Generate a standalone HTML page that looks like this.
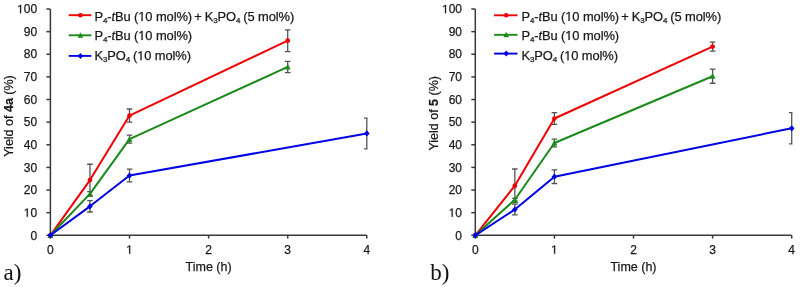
<!DOCTYPE html>
<html><head><meta charset="utf-8"><style>
html,body{margin:0;padding:0;background:#fff;width:800px;height:287px;overflow:hidden}
svg{display:block;will-change:transform}
.one{fill:transparent;stroke:none}
.onep{fill:#1a1a1a;stroke:#1a1a1a;stroke-width:0.25px}
.t{font-family:"Liberation Sans", sans-serif;font-size:12px;fill:#1a1a1a;stroke:#1a1a1a;stroke-width:0.25px}
.at{font-family:"Liberation Sans", sans-serif;font-size:12.5px;fill:#1a1a1a;stroke:#1a1a1a;stroke-width:0.25px}
.lg{font-family:"Liberation Sans", sans-serif;font-size:12.9px;letter-spacing:-0.09px;fill:#1a1a1a;stroke:#1a1a1a;stroke-width:0.25px}
.sub{font-size:8.0px}
.tag{font-family:"Liberation Serif", serif;font-size:23px;fill:#111}
</style></head><body>
<svg width="800" height="287" viewBox="0 0 800 287">
<path d="M89.95 164.24V195.92M87.15 164.24h5.60M87.15 195.92h5.60" stroke="#555555" stroke-width="1.3" fill="none"/>
<path d="M129.50 109.02V122.15M126.70 109.02h5.60M126.70 122.15h5.60" stroke="#555555" stroke-width="1.3" fill="none"/>
<path d="M287.70 29.82V51.54M284.90 29.82h5.60M284.90 51.54h5.60" stroke="#555555" stroke-width="1.3" fill="none"/>
<path d="M89.95 191.62V196.15M87.15 191.62h5.60M87.15 196.15h5.60" stroke="#555555" stroke-width="1.3" fill="none"/>
<path d="M129.50 135.05V143.20M126.70 135.05h5.60M126.70 143.20h5.60" stroke="#555555" stroke-width="1.3" fill="none"/>
<path d="M287.70 61.28V72.59M284.90 61.28h5.60M284.90 72.59h5.60" stroke="#555555" stroke-width="1.3" fill="none"/>
<path d="M89.95 200.68V211.99M87.15 200.68h5.60M87.15 211.99h5.60" stroke="#555555" stroke-width="1.3" fill="none"/>
<path d="M129.50 169.22V181.89M126.70 169.22h5.60M126.70 181.89h5.60" stroke="#555555" stroke-width="1.3" fill="none"/>
<path d="M366.80 118.08V148.85M364.00 118.08h3.60M364.00 148.85h3.60" stroke="#555555" stroke-width="1.3" fill="none"/>
<path d="M50.40 9.00V235.30H366.80" stroke="#3a3a3a" stroke-width="1.5" fill="none"/>
<path d="M46.40 235.30H50.40" stroke="#3a3a3a" stroke-width="1.5"/>
<text x="37.10" y="239.50" text-anchor="end" class="t">0</text>
<path d="M46.40 212.67H50.40" stroke="#3a3a3a" stroke-width="1.5"/>
<text x="37.10" y="216.87" text-anchor="end" class="t"><tspan class="one">1</tspan>0</text>
<path d="M46.40 190.04H50.40" stroke="#3a3a3a" stroke-width="1.5"/>
<text x="37.10" y="194.24" text-anchor="end" class="t">20</text>
<path d="M46.40 167.41H50.40" stroke="#3a3a3a" stroke-width="1.5"/>
<text x="37.10" y="171.61" text-anchor="end" class="t">30</text>
<path d="M46.40 144.78H50.40" stroke="#3a3a3a" stroke-width="1.5"/>
<text x="37.10" y="148.98" text-anchor="end" class="t">40</text>
<path d="M46.40 122.15H50.40" stroke="#3a3a3a" stroke-width="1.5"/>
<text x="37.10" y="126.35" text-anchor="end" class="t">50</text>
<path d="M46.40 99.52H50.40" stroke="#3a3a3a" stroke-width="1.5"/>
<text x="37.10" y="103.72" text-anchor="end" class="t">60</text>
<path d="M46.40 76.89H50.40" stroke="#3a3a3a" stroke-width="1.5"/>
<text x="37.10" y="81.09" text-anchor="end" class="t">70</text>
<path d="M46.40 54.26H50.40" stroke="#3a3a3a" stroke-width="1.5"/>
<text x="37.10" y="58.46" text-anchor="end" class="t">80</text>
<path d="M46.40 31.63H50.40" stroke="#3a3a3a" stroke-width="1.5"/>
<text x="37.10" y="35.83" text-anchor="end" class="t">90</text>
<path d="M46.40 9.00H50.40" stroke="#3a3a3a" stroke-width="1.5"/>
<text x="37.10" y="13.20" text-anchor="end" class="t"><tspan class="one">1</tspan>00</text>
<path d="M50.40 235.30V238.60" stroke="#3a3a3a" stroke-width="1.5"/>
<text x="50.40" y="253.70" text-anchor="middle" class="t">0</text>
<path d="M129.50 235.30V238.60" stroke="#3a3a3a" stroke-width="1.5"/>
<text x="129.50" y="253.70" text-anchor="middle" class="t"><tspan class="one">1</tspan></text>
<path d="M208.60 235.30V238.60" stroke="#3a3a3a" stroke-width="1.5"/>
<text x="208.60" y="253.70" text-anchor="middle" class="t">2</text>
<path d="M287.70 235.30V238.60" stroke="#3a3a3a" stroke-width="1.5"/>
<text x="287.70" y="253.70" text-anchor="middle" class="t">3</text>
<path d="M366.80 235.30V238.60" stroke="#3a3a3a" stroke-width="1.5"/>
<text x="366.80" y="253.70" text-anchor="middle" class="t">4</text>
<path d="M50.40 235.30 L89.95 180.08 L129.50 115.59 L287.70 40.68" stroke="#f00000" stroke-width="2.0" fill="none" stroke-linejoin="round"/>
<circle cx="50.40" cy="235.30" r="2.4" fill="#f00000"/>
<circle cx="89.95" cy="180.08" r="2.4" fill="#f00000"/>
<circle cx="129.50" cy="115.59" r="2.4" fill="#f00000"/>
<circle cx="287.70" cy="40.68" r="2.4" fill="#f00000"/>
<path d="M50.40 235.30 L89.95 193.89 L129.50 139.12 L287.70 66.93" stroke="#1a8a1a" stroke-width="2.0" fill="none" stroke-linejoin="round"/>
<path d="M50.40 232.08 L53.33 237.94 L47.47 237.94Z" fill="#1a8a1a"/>
<path d="M89.95 190.67 L92.88 196.52 L87.02 196.52Z" fill="#1a8a1a"/>
<path d="M129.50 135.90 L132.43 141.76 L126.57 141.76Z" fill="#1a8a1a"/>
<path d="M287.70 63.71 L290.63 69.57 L284.77 69.57Z" fill="#1a8a1a"/>
<path d="M50.40 235.30 L89.95 206.33 L129.50 175.56 L366.80 133.47" stroke="#0000e6" stroke-width="2.0" fill="none" stroke-linejoin="round"/>
<path d="M50.40 232.18 L53.21 235.30 L50.40 238.42 L47.59 235.30Z" fill="#0000e6"/>
<path d="M89.95 203.21 L92.76 206.33 L89.95 209.45 L87.14 206.33Z" fill="#0000e6"/>
<path d="M129.50 172.44 L132.31 175.56 L129.50 178.68 L126.69 175.56Z" fill="#0000e6"/>
<path d="M366.80 130.35 L369.61 133.47 L366.80 136.59 L363.99 133.47Z" fill="#0000e6"/>
<path d="M68.70 15.20h22.6" stroke="#f00000" stroke-width="1.9"/>
<circle cx="80.40" cy="15.20" r="2.3" fill="#f00000"/>
<text x="94.40" y="20.90" class="lg" xml:space="preserve">P<tspan class="sub" dy="2.0">4</tspan><tspan dy="-2.0">-</tspan><tspan font-style="italic">t</tspan>Bu (<tspan class="one">1</tspan>0 mol%)<tspan dx="-1.2"> + </tspan><tspan dx="-0.5">K</tspan><tspan class="sub" dy="2.0">3</tspan><tspan dy="-2.0">PO</tspan><tspan class="sub" dy="2.0">4</tspan><tspan dy="-2.0" dx="-0.6"> </tspan>(5 mol%)</text>
<path d="M68.70 35.30h22.6" stroke="#1a8a1a" stroke-width="1.9"/>
<path d="M80.40 32.21 L83.21 37.83 L77.59 37.83Z" fill="#1a8a1a"/>
<text x="94.40" y="40.00" class="lg" xml:space="preserve">P<tspan class="sub" dy="2.0">4</tspan><tspan dy="-2.0">-</tspan><tspan font-style="italic">t</tspan>Bu (<tspan class="one">1</tspan>0 mol%)</text>
<path d="M68.70 55.90h22.6" stroke="#0000e6" stroke-width="1.9"/>
<path d="M80.40 52.91 L83.09 55.90 L80.40 58.89 L77.71 55.90Z" fill="#0000e6"/>
<text x="94.40" y="60.20" class="lg" xml:space="preserve">K<tspan class="sub" dy="2.0">3</tspan><tspan dy="-2.0">PO</tspan><tspan class="sub" dy="2.0">4</tspan><tspan dy="-2.0" dx="-0.6"> </tspan>(<tspan class="one">1</tspan>0 mol%)</text>
<text transform="translate(13.20 116.0) rotate(-90)" text-anchor="middle" class="at">Yield of <tspan font-weight="bold">4a</tspan> (%)</text>
<text x="208.60" y="271.10" text-anchor="middle" class="at">Time (h)</text>
<text x="3.60" y="279.80" class="tag">a)</text>
<path d="M514.85 168.99V202.49M512.05 168.99h5.60M512.05 202.49h5.60" stroke="#555555" stroke-width="1.3" fill="none"/>
<path d="M554.40 112.65V124.41M551.60 112.65h5.60M551.60 124.41h5.60" stroke="#555555" stroke-width="1.3" fill="none"/>
<path d="M712.60 42.04V51.09M709.80 42.04h5.60M709.80 51.09h5.60" stroke="#555555" stroke-width="1.3" fill="none"/>
<path d="M514.85 198.41V201.13M512.05 198.41h5.60M512.05 201.13h5.60" stroke="#555555" stroke-width="1.3" fill="none"/>
<path d="M554.40 139.12V146.82M551.60 139.12h5.60M551.60 146.82h5.60" stroke="#555555" stroke-width="1.3" fill="none"/>
<path d="M712.60 69.20V83.23M709.80 69.20h5.60M709.80 83.23h5.60" stroke="#555555" stroke-width="1.3" fill="none"/>
<path d="M514.85 204.07V214.93M512.05 204.07h5.60M512.05 214.93h5.60" stroke="#555555" stroke-width="1.3" fill="none"/>
<path d="M554.40 169.90V183.48M551.60 169.90h5.60M551.60 183.48h5.60" stroke="#555555" stroke-width="1.3" fill="none"/>
<path d="M791.70 112.65V143.87M788.90 112.65h3.60M788.90 143.87h3.60" stroke="#555555" stroke-width="1.3" fill="none"/>
<path d="M475.30 9.00V235.30H791.70" stroke="#3a3a3a" stroke-width="1.5" fill="none"/>
<path d="M471.30 235.30H475.30" stroke="#3a3a3a" stroke-width="1.5"/>
<text x="462.00" y="239.50" text-anchor="end" class="t">0</text>
<path d="M471.30 212.67H475.30" stroke="#3a3a3a" stroke-width="1.5"/>
<text x="462.00" y="216.87" text-anchor="end" class="t"><tspan class="one">1</tspan>0</text>
<path d="M471.30 190.04H475.30" stroke="#3a3a3a" stroke-width="1.5"/>
<text x="462.00" y="194.24" text-anchor="end" class="t">20</text>
<path d="M471.30 167.41H475.30" stroke="#3a3a3a" stroke-width="1.5"/>
<text x="462.00" y="171.61" text-anchor="end" class="t">30</text>
<path d="M471.30 144.78H475.30" stroke="#3a3a3a" stroke-width="1.5"/>
<text x="462.00" y="148.98" text-anchor="end" class="t">40</text>
<path d="M471.30 122.15H475.30" stroke="#3a3a3a" stroke-width="1.5"/>
<text x="462.00" y="126.35" text-anchor="end" class="t">50</text>
<path d="M471.30 99.52H475.30" stroke="#3a3a3a" stroke-width="1.5"/>
<text x="462.00" y="103.72" text-anchor="end" class="t">60</text>
<path d="M471.30 76.89H475.30" stroke="#3a3a3a" stroke-width="1.5"/>
<text x="462.00" y="81.09" text-anchor="end" class="t">70</text>
<path d="M471.30 54.26H475.30" stroke="#3a3a3a" stroke-width="1.5"/>
<text x="462.00" y="58.46" text-anchor="end" class="t">80</text>
<path d="M471.30 31.63H475.30" stroke="#3a3a3a" stroke-width="1.5"/>
<text x="462.00" y="35.83" text-anchor="end" class="t">90</text>
<path d="M471.30 9.00H475.30" stroke="#3a3a3a" stroke-width="1.5"/>
<text x="462.00" y="13.20" text-anchor="end" class="t"><tspan class="one">1</tspan>00</text>
<path d="M475.30 235.30V238.60" stroke="#3a3a3a" stroke-width="1.5"/>
<text x="475.30" y="253.70" text-anchor="middle" class="t">0</text>
<path d="M554.40 235.30V238.60" stroke="#3a3a3a" stroke-width="1.5"/>
<text x="554.40" y="253.70" text-anchor="middle" class="t"><tspan class="one">1</tspan></text>
<path d="M633.50 235.30V238.60" stroke="#3a3a3a" stroke-width="1.5"/>
<text x="633.50" y="253.70" text-anchor="middle" class="t">2</text>
<path d="M712.60 235.30V238.60" stroke="#3a3a3a" stroke-width="1.5"/>
<text x="712.60" y="253.70" text-anchor="middle" class="t">3</text>
<path d="M791.70 235.30V238.60" stroke="#3a3a3a" stroke-width="1.5"/>
<text x="791.70" y="253.70" text-anchor="middle" class="t">4</text>
<path d="M475.30 235.30 L514.85 185.74 L554.40 118.53 L712.60 46.57" stroke="#f00000" stroke-width="2.0" fill="none" stroke-linejoin="round"/>
<circle cx="475.30" cy="235.30" r="2.4" fill="#f00000"/>
<circle cx="514.85" cy="185.74" r="2.4" fill="#f00000"/>
<circle cx="554.40" cy="118.53" r="2.4" fill="#f00000"/>
<circle cx="712.60" cy="46.57" r="2.4" fill="#f00000"/>
<path d="M475.30 235.30 L514.85 199.77 L554.40 142.97 L712.60 76.21" stroke="#1a8a1a" stroke-width="2.0" fill="none" stroke-linejoin="round"/>
<path d="M475.30 232.08 L478.23 237.94 L472.37 237.94Z" fill="#1a8a1a"/>
<path d="M514.85 196.55 L517.78 202.41 L511.92 202.41Z" fill="#1a8a1a"/>
<path d="M554.40 139.75 L557.33 145.60 L551.47 145.60Z" fill="#1a8a1a"/>
<path d="M712.60 72.99 L715.53 78.85 L709.67 78.85Z" fill="#1a8a1a"/>
<path d="M475.30 235.30 L514.85 209.50 L554.40 176.69 L791.70 128.26" stroke="#0000e6" stroke-width="2.0" fill="none" stroke-linejoin="round"/>
<path d="M475.30 232.18 L478.11 235.30 L475.30 238.42 L472.49 235.30Z" fill="#0000e6"/>
<path d="M514.85 206.38 L517.66 209.50 L514.85 212.62 L512.04 209.50Z" fill="#0000e6"/>
<path d="M554.40 173.57 L557.21 176.69 L554.40 179.81 L551.59 176.69Z" fill="#0000e6"/>
<path d="M791.70 125.14 L794.51 128.26 L791.70 131.38 L788.89 128.26Z" fill="#0000e6"/>
<path d="M494.10 15.30h23.4" stroke="#f00000" stroke-width="1.9"/>
<circle cx="506.20" cy="15.30" r="2.3" fill="#f00000"/>
<text x="521.40" y="20.90" class="lg" xml:space="preserve">P<tspan class="sub" dy="2.0">4</tspan><tspan dy="-2.0">-</tspan><tspan font-style="italic">t</tspan>Bu (<tspan class="one">1</tspan>0 mol%)<tspan dx="-1.2"> + </tspan><tspan dx="-0.5">K</tspan><tspan class="sub" dy="2.0">3</tspan><tspan dy="-2.0">PO</tspan><tspan class="sub" dy="2.0">4</tspan><tspan dy="-2.0" dx="-0.6"> </tspan>(5 mol%)</text>
<path d="M494.10 34.80h23.4" stroke="#1a8a1a" stroke-width="1.9"/>
<path d="M506.20 31.71 L509.01 37.33 L503.39 37.33Z" fill="#1a8a1a"/>
<text x="521.40" y="40.00" class="lg" xml:space="preserve">P<tspan class="sub" dy="2.0">4</tspan><tspan dy="-2.0">-</tspan><tspan font-style="italic">t</tspan>Bu (<tspan class="one">1</tspan>0 mol%)</text>
<path d="M494.10 53.60h23.4" stroke="#0000e6" stroke-width="1.9"/>
<path d="M506.20 50.61 L508.89 53.60 L506.20 56.59 L503.51 53.60Z" fill="#0000e6"/>
<text x="521.40" y="60.20" class="lg" xml:space="preserve">K<tspan class="sub" dy="2.0">3</tspan><tspan dy="-2.0">PO</tspan><tspan class="sub" dy="2.0">4</tspan><tspan dy="-2.0" dx="-0.6"> </tspan>(<tspan class="one">1</tspan>0 mol%)</text>
<text transform="translate(438.10 113.3) rotate(-90)" text-anchor="middle" class="at">Yield of <tspan font-weight="bold">5</tspan> (%)</text>
<text x="633.50" y="271.10" text-anchor="middle" class="at">Time (h)</text>
<text x="430.20" y="279.80" class="tag">b)</text>
<path class="onep" d="M26.74 216.87 L26.74 209.62 L24.88 210.95 L24.88 209.96 L26.83 208.61 L27.80 208.61 L27.80 216.87Z"/>
<path class="onep" d="M20.07 13.20 L20.07 5.95 L18.21 7.28 L18.21 6.29 L20.16 4.94 L21.13 4.94 L21.13 13.20Z"/>
<path class="onep" d="M129.17 253.70 L129.17 246.45 L127.31 247.78 L127.31 246.79 L129.26 245.44 L130.23 245.44 L130.23 253.70Z"/>
<path class="onep" d="M141.50 20.90 L141.50 13.11 L139.50 14.54 L139.50 13.47 L141.60 12.02 L142.64 12.02 L142.64 20.90Z"/>
<path class="onep" d="M141.50 40.00 L141.50 32.21 L139.50 33.64 L139.50 32.57 L141.60 31.12 L142.64 31.12 L142.64 40.00Z"/>
<path class="onep" d="M140.43 60.20 L140.43 52.41 L138.43 53.84 L138.43 52.77 L140.53 51.32 L141.57 51.32 L141.57 60.20Z"/>
<path class="onep" d="M451.64 216.87 L451.64 209.62 L449.78 210.95 L449.78 209.96 L451.73 208.61 L452.70 208.61 L452.70 216.87Z"/>
<path class="onep" d="M444.97 13.20 L444.97 5.95 L443.11 7.28 L443.11 6.29 L445.06 4.94 L446.03 4.94 L446.03 13.20Z"/>
<path class="onep" d="M554.07 253.70 L554.07 246.45 L552.21 247.78 L552.21 246.79 L554.16 245.44 L555.13 245.44 L555.13 253.70Z"/>
<path class="onep" d="M568.50 20.90 L568.50 13.11 L566.50 14.54 L566.50 13.47 L568.60 12.02 L569.64 12.02 L569.64 20.90Z"/>
<path class="onep" d="M568.50 40.00 L568.50 32.21 L566.50 33.64 L566.50 32.57 L568.60 31.12 L569.64 31.12 L569.64 40.00Z"/>
<path class="onep" d="M567.43 60.20 L567.43 52.41 L565.43 53.84 L565.43 52.77 L567.53 51.32 L568.57 51.32 L568.57 60.20Z"/>
</svg>
</body></html>
